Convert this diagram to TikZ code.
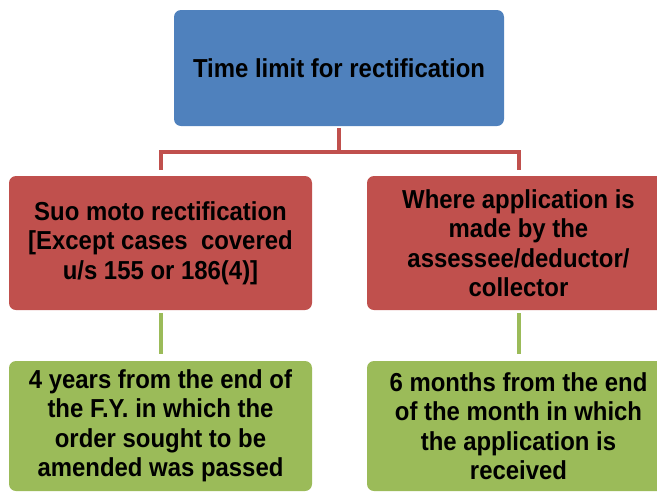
\documentclass[tikz,border=0pt]{standalone}
\usepackage{fontspec}
\setmainfont{Liberation Sans}[FakeStretch=0.92]
\usepackage{tikz}
\usepackage{xcolor}
\usetikzlibrary{positioning,calc}
\definecolor{boxblue}{RGB}{79,129,189}
\definecolor{boxred}{RGB}{192,80,77}
\definecolor{boxgreen}{RGB}{155,187,89}

\begin{document}
\begin{tikzpicture}[x=1pt,y=-1pt,
  box/.style={rounded corners=7pt,align=center,inner sep=0pt,
    font=\fontsize{26}{29.5}\selectfont\bfseries},
  redline/.style={draw=boxred,line width=4pt},
  greenline/.style={draw=boxgreen,line width=4pt}]
\useasboundingbox (0,0) rectangle (657,491);
\clip (0,0) rectangle (657,491);
\node[box,fill=boxblue,minimum width=330pt,minimum height=116pt] (top) at (339,68) {Time limit for rectification};
\node[box,fill=boxred,minimum width=303pt,minimum height=134pt] (suo) at (160.5,243) {Suo moto rectification\\{[}Except cases\ \ covered\\u/s 155 or 186(4)]};
\node[box,fill=boxred,minimum width=303pt,minimum height=134pt] (appl) at (518.5,243) {Where application is\\made by the\\assessee/deductor/\\collector};
\node[box,fill=boxgreen,minimum width=303pt,minimum height=130pt] (four) at (160.5,426) {4 years from the end of\\the F.Y. in which the\\order sought to be\\amended was passed};
\node[box,fill=boxgreen,minimum width=303pt,minimum height=130pt] (six) at (518.5,426) {6 months from the end\\of the month in which\\the application is\\received};
% connectors
\coordinate (fork) at ($(top.south)+(0,26)$);
\draw[redline] ([yshift=-2pt]top.south) -- (fork) -| ([yshift=6pt]suo.north);
\draw[redline] (fork) -| ([yshift=6pt]appl.north);
\draw[greenline,shorten <=3pt,shorten >=7pt] (suo.south) -- (four.north);
\draw[greenline,shorten <=3pt,shorten >=7pt] (appl.south) -- (six.north);
\end{tikzpicture}
\end{document}
